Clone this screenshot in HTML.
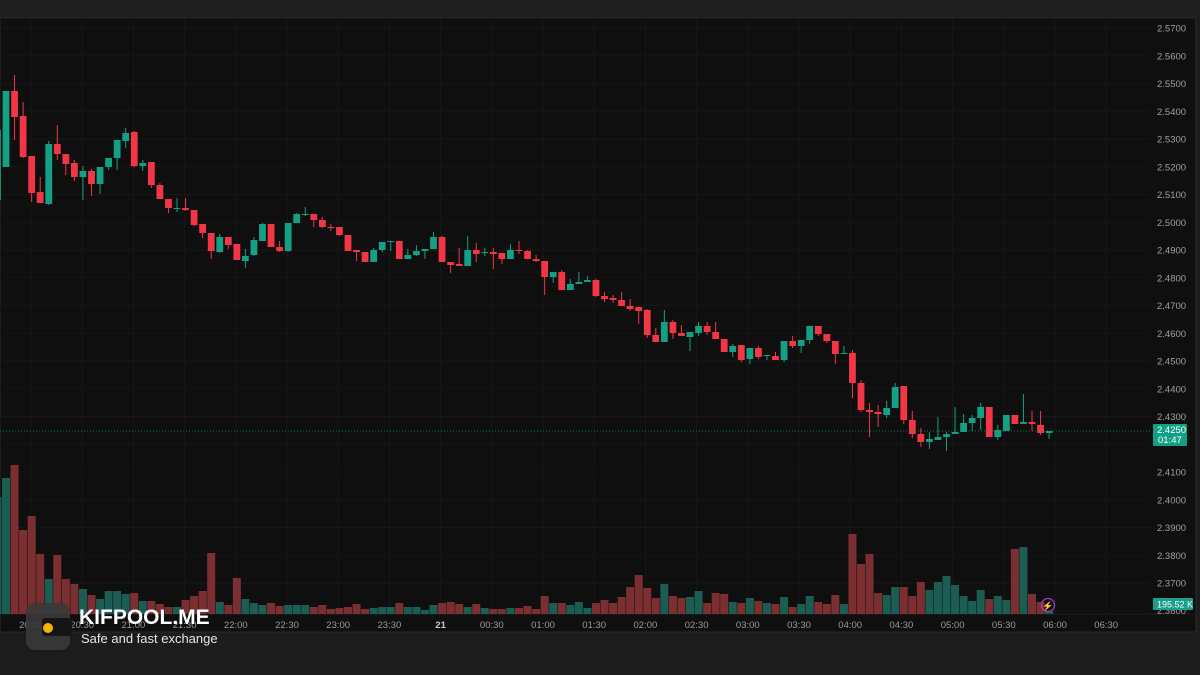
<!DOCTYPE html>
<html><head><meta charset="utf-8"><style>
html,body{margin:0;padding:0;background:#1c1c1c;width:1200px;height:675px;overflow:hidden;font-family:"Liberation Sans",sans-serif}
svg{position:absolute;left:0;top:0}
</style></head><body>
<svg id="s" width="1200" height="675" xmlns="http://www.w3.org/2000/svg">
<rect x="0" y="0" width="1200" height="675" fill="#1c1c1c"/>
<rect x="0" y="0" width="1200" height="17" fill="#1e1e1e"/>
<rect x="0" y="18" width="1196" height="614" fill="#0f0f0f" stroke="#2a2a2a" stroke-width="1"/>
<g id="grid"></g><g id="vol"></g><g id="cs"></g><g id="lbl"></g>
</svg>
<script>
var NS="http://www.w3.org/2000/svg";
function el(p,t,a,txt){var e=document.createElementNS(NS,t);for(var k in a)e.setAttribute(k,a[k]);if(txt!=null)e.textContent=txt;document.getElementById(p).appendChild(e);return e;}
var tl=["20:00","20:30","21:00","21:30","22:00","22:30","23:00","23:30","21","00:30","01:00","01:30","02:00","02:30","03:00","03:30","04:00","04:30","05:00","05:30","06:00","06:30"];
for(var i=0;i<tl.length;i++){var x=31+i*51.2;el("grid","line",{x1:x,x2:x,y1:18,y2:614,stroke:"#171717"});
el("lbl","text",{x:x,y:628,"text-anchor":"middle","font-size":"9.5",fill:tl[i]=="21"?"#c8c8c8":"#9a9a9a","font-weight":tl[i]=="21"?"bold":"normal"},tl[i]);}
for(var p=0;p<=21;p++){var y=28+p*27.75;el("grid","line",{x1:0,x2:1150,y1:y,y2:y,stroke:"#171717"});
var v=(2.57-p*0.01).toFixed(4);if(p!=15&&p!=21)el("lbl","text",{x:1157,y:y+3.5,"font-size":"9.5",fill:"#a0a0a0"},v);}
el("grid","line",{x1:0,x2:1195,y1:614,y2:614,stroke:"#1f1f1f"});
var C=[[1,130,200,120,205],
[1,91,167,91,167],[0,91,117,75,140],[0,116,157,102,158],[0,156,193,156,202],[0,192,203,177,203],[1,144,204,141,205],[0,144,154,125,160],[0,154,164,154,175],[0,163,177,160,181],[1,171,177,166,200],
[0,171,184,169,196],[1,167,184,167,194],[1,158,167,158,170],[1,140,158,140,170],[1,133,141,128,148],[0,132,166,131,167],[1,163,166,160,171],[0,162,185,162,188],[0,185,199,183,199],[0,199,208,199,213],
[1,208,209,198,212],[0,208,210,198,211],[0,210,225,210,226],[0,224,233,224,238],[0,233,251,233,259],[1,237,252,234,253],[0,237,245,237,249],[0,244,260,244,260],[1,256,261,249,268],[1,240,255,237,256],
[1,224,241,223,241],[0,224,247,224,247],[0,247,251,241,252],[1,223,251,223,252],[1,214,223,213,223],[1,214,215,207,216],[0,214,220,214,227],[0,220,227,217,228],[0,227,228,224,231],[0,227,235,227,236],
[0,235,251,235,251],[0,250,252,250,261],[0,252,262,252,262],[1,250,262,248,262],[1,242,250,242,252],[1,241,242,241,251],[0,241,259,241,259],[1,255,259,249,259],[1,251,255,245,256],[1,249,251,249,259],
[1,237,249,232,249],[0,237,262,236,262],[0,262,265,262,273],[0,264,266,248,266],[1,250,266,236,266],[0,250,254,243,262],[1,252,253,248,256],[0,252,254,248,269],[0,253,259,253,264],[1,250,259,244,259],
[0,250,251,241,254],[0,251,259,250,259],[0,259,261,255,262],[0,261,277,261,295],[1,272,277,272,283],[0,272,290,270,290],[1,284,290,279,290],[1,282,284,272,284],[1,280,282,276,282],[0,280,296,279,297],
[0,296,299,292,302],[0,298,300,295,303],[0,300,306,292,306],[0,306,309,299,311],[0,307,311,307,324],[0,310,335,309,338],[0,335,342,328,342],[1,322,342,310,342],[0,322,333,320,339],[0,333,336,325,336],
[1,332,337,332,351],[1,326,333,322,336],[0,326,332,322,335],[0,332,339,322,339],[0,339,352,339,352],[1,346,352,344,357],[0,345,360,345,362],[1,348,359,348,364],[0,348,357,346,359],[1,355,356,355,360],
[0,356,360,352,360],[1,341,360,341,362],[0,341,346,336,348],[1,340,346,340,353],[1,326,340,326,344],[0,326,334,326,336],[0,334,341,334,343],[0,341,354,341,364],[1,353,354,346,354],[0,353,383,350,398],
[0,383,410,380,412],[0,410,412,403,437],[0,412,414,405,427],[1,408,415,401,418],[1,387,408,383,408],[0,386,420,386,424],[0,420,434,411,438],[0,434,442,428,447],[1,439,442,432,449],[1,437,440,417,440],
[1,434,437,432,451],[1,432,434,407,434],[1,423,432,414,432],[1,418,423,415,431],[1,407,418,403,430],[0,407,437,407,437],[1,430,437,425,440],[1,415,431,415,431],[0,415,424,415,424],[1,422,424,394,424],
[0,422,424,411,431],[0,425,433,411,435],[1,431,433,431,439]];
var V=[497,478,465,530,516,554,579,555,579,584,589,595,599,591,591,594,593,601,601,604,607,607,600,596,591,553,602,605,578,599,603,605,603,606,605,605,605,607,605,609,608,607,604,609,608,607,607,603,607,607,610,605,603,602,604,607,604,608,609,609,608,608,606,609,596,603,603,605,602,608,603,600,603,597,587,575,588,598,584,596,598,597,591,603,593,594,602,603,598,601,603,604,597,607,604,596,602,604,595,604,534,564,554,593,595,587,587,596,582,590,582,576,585,596,601,590,599,596,600,549,547,594,602,611];
for(var i=0;i<C.length;i++){var x=6+8.55*(i-1);var c=C[i];var col=c[0]?"#14a085":"#f23645";
el("vol","rect",{x:x-4,y:V[i],width:8,height:614-V[i],fill:c[0]?"#1b5c53":"#7c2f31"});
el("cs","line",{x1:x,x2:x,y1:c[3],y2:c[4],stroke:col,"stroke-width":1});
el("cs","rect",{x:x-3.4,y:c[1],width:6.8,height:Math.max(1,c[2]-c[1]),fill:col});}
el("lbl","line",{x1:0,x2:1152,y1:431,y2:431,stroke:"#14a085","stroke-width":1,"stroke-dasharray":"1 2",opacity:0.7});
el("lbl","rect",{x:1153,y:424,width:34,height:22,rx:1,fill:"#12a085"});
el("lbl","text",{x:1157,y:433,"font-size":"9.5",fill:"#fff"},"2.4250");
el("lbl","text",{x:1158,y:443,"font-size":"9.5",fill:"#fff"},"01:47");
el("lbl","text",{x:1157,y:614,"font-size":"9.5",fill:"#a0a0a0"},"2.3600");
el("lbl","rect",{x:1153,y:598,width:40,height:12,rx:1,fill:"#1a9f88"});
el("lbl","text",{x:1157,y:607.5,"font-size":"9",fill:"#fff"},"195.52 K");
el("lbl","circle",{cx:1048,cy:605,r:6.5,fill:"none",stroke:"#a03cc8","stroke-width":1.3});
el("lbl","text",{x:1048,y:609,"text-anchor":"middle","font-size":"9",fill:"#b050e0"},"⚡");
el("lbl","rect",{x:26,y:603,width:44,height:47,rx:9,fill:"#3a3a3a",opacity:0.9});
el("lbl","rect",{x:42,y:618,width:30,height:18,rx:3,fill:"#151515"});
el("lbl","circle",{cx:48,cy:628,r:5,fill:"#f4b400"});
el("lbl","text",{x:79,y:624,"font-size":"21","font-weight":"bold",fill:"#ffffff"},"KIFPOOL.ME");
el("lbl","text",{x:81,y:643,"font-size":"13",fill:"#e6e6e6"},"Safe and fast exchange");
</script>
</body></html>
